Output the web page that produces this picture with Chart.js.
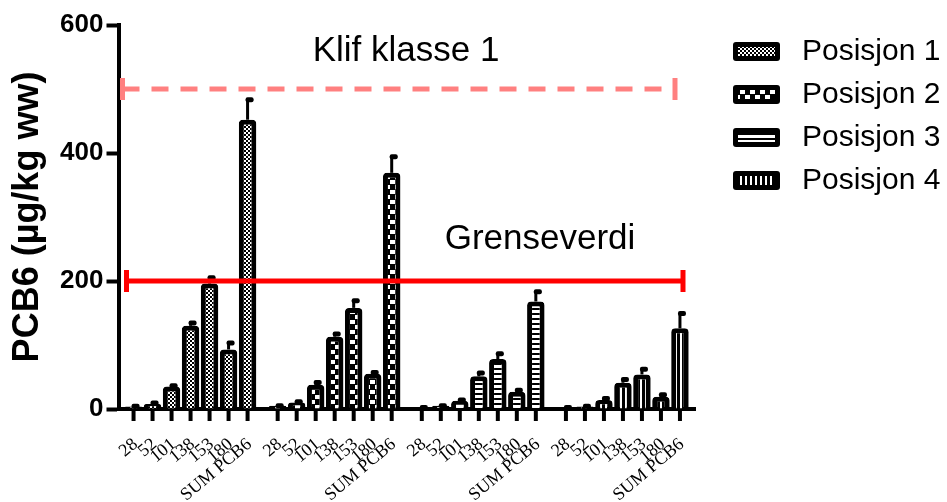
<!DOCTYPE html>
<html>
<head>
<meta charset="utf-8">
<script src="https://cdn.jsdelivr.net/npm/chart.js@4.4.0/dist/chart.umd.min.js"></script>
<style>
  body { margin: 0; background: #fff; }
  #wrap { width: 947px; height: 502px; position: relative; }
</style>
</head>
<body>
<div id="wrap"><canvas id="chart"></canvas></div>
<script>
const positions = ['Posisjon 1', 'Posisjon 2', 'Posisjon 3', 'Posisjon 4'];
const congeners = ['28', '52', '101', '138', '153', '180', 'SUM PCB6'];

// mean and SD per congener, one pair of arrays per position
const pos1Mean = [4, 8, 35, 130, 196, 93, 452];
const pos1Sd = [1, 2, 2, 5, 10, 11, 32];
const pos2Mean = [5, 10, 38, 113, 158, 55, 369];
const pos2Sd = [1, 2, 4, 5, 12, 3, 26];
const pos3Mean = [2, 5, 13, 51, 78, 27, 168];
const pos3Sd = [1, 1, 2, 6, 9, 3, 16];
const pos4Mean = [2, 4, 14, 41, 54, 19, 126];
const pos4Sd = [1, 1, 3, 6, 9, 4, 24];

const yTicks = [0, 200, 400, 600];
const grenseverdi = 200;
const klifKlasse1 = 500;

const means = [pos1Mean, pos2Mean, pos3Mean, pos4Mean];
const sds = [pos1Sd, pos2Sd, pos3Sd, pos4Sd];

const FONT = "'Liberation Sans', Arial, sans-serif";

function makePattern(kind) {
  const c = document.createElement('canvas');
  const g = c.getContext('2d');
  if (kind === 1) {
    c.width = 4; c.height = 4;
    g.fillStyle = '#000'; g.fillRect(0, 0, 4, 4);
    g.fillStyle = '#fff'; g.fillRect(0, 0, 2, 2); g.fillRect(2, 2, 2, 2);
  } else if (kind === 2) {
    c.width = 10; c.height = 10;
    g.fillStyle = '#000'; g.fillRect(0, 0, 10, 10);
    g.fillStyle = '#fff'; g.fillRect(0, 0, 5, 4); g.fillRect(5, 5, 5, 4);
  } else if (kind === 3) {
    c.width = 1; c.height = 5;
    g.fillStyle = '#000'; g.fillRect(0, 0, 1, 5);
    g.fillStyle = '#fff'; g.fillRect(0, 0, 1, 3);
  } else {
    c.width = 5; c.height = 1;
    g.fillStyle = '#000'; g.fillRect(0, 0, 5, 1);
    g.fillStyle = '#fff'; g.fillRect(0, 0, 2, 1);
  }
  return document.getElementById('chart').getContext('2d').createPattern(c, 'repeat');
}

const patterns = [makePattern(1), makePattern(2), makePattern(3), makePattern(4)];

const datasets = congeners.map((name, i) => ({
  label: name,
  data: means.map(m => m[i]),
  backgroundColor: patterns,
  borderColor: '#000',
  borderWidth: 5,
  borderSkipped: 'start',
  borderRadius: { topLeft: 4, topRight: 4, bottomLeft: 0, bottomRight: 0 },
  categoryPercentage: 0.923,
  barPercentage: 0.92
}));

const extras = {
  id: 'extras',
  afterDatasetsDraw(chart) {
    const ctx = chart.ctx;
    const y = chart.scales.y;
    const area = chart.chartArea;
    ctx.save();

    // error bars (upper half)
    ctx.strokeStyle = '#000';
    ctx.lineWidth = 3;
    chart.data.datasets.forEach((ds, i) => {
      chart.getDatasetMeta(i).data.forEach((bar, j) => {
        const top = y.getPixelForValue(means[j][i] + sds[j][i]);
        ctx.beginPath();
        ctx.moveTo(bar.x, bar.y);
        ctx.lineTo(bar.x, top);
        ctx.stroke();
        ctx.fillStyle = '#000';
        ctx.beginPath();
        ctx.roundRect(bar.x - 2, top - 2, 8, 5, 2);
        ctx.fill();
      });
    });

    // x tick marks and rotated labels
    ctx.lineWidth = 4;
    ctx.font = "18px 'Liberation Serif', 'Times New Roman', serif";
    ctx.fillStyle = '#000';
    ctx.textAlign = 'right';
    ctx.textBaseline = 'middle';
    chart.data.datasets.forEach((ds, i) => {
      chart.getDatasetMeta(i).data.forEach(bar => {
        ctx.beginPath();
        ctx.moveTo(bar.x, area.bottom);
        ctx.lineTo(bar.x, area.bottom + 12);
        ctx.stroke();
        ctx.save();
        ctx.translate(bar.x + 2, area.bottom + 33);
        ctx.rotate(-40 * Math.PI / 180);
        ctx.fillText(ds.label, 0, 0);
        ctx.restore();
      });
    });

    // Klif klasse 1 (dashed) line
    const yk = y.getPixelForValue(klifKlasse1);
    ctx.strokeStyle = '#FF8080';
    ctx.lineWidth = 5;
    ctx.setLineDash([17, 12]);
    ctx.beginPath();
    ctx.moveTo(area.left + 4, yk);
    ctx.lineTo(area.right - 20, yk);
    ctx.stroke();
    ctx.setLineDash([]);
    [area.left + 4, area.right - 20].forEach(x => {
      ctx.beginPath();
      ctx.moveTo(x, yk - 11);
      ctx.lineTo(x, yk + 11);
      ctx.stroke();
    });

    // Grenseverdi line
    const yg = y.getPixelForValue(grenseverdi);
    ctx.strokeStyle = '#FF0000';
    ctx.lineWidth = 5;
    ctx.beginPath();
    ctx.moveTo(area.left + 8, yg);
    ctx.lineTo(area.right - 12, yg);
    ctx.stroke();
    [area.left + 8, area.right - 12].forEach(x => {
      ctx.beginPath();
      ctx.moveTo(x, yg - 11);
      ctx.lineTo(x, yg + 11);
      ctx.stroke();
    });

    ctx.fillStyle = '#000';
    ctx.textAlign = 'center';
    ctx.font = '35px ' + FONT;
    ctx.fillText('Klif klasse 1', 406, 51);
    ctx.fillText('Grenseverdi', 540, 239);

    // legend
    ctx.textAlign = 'left';
    ctx.font = '30px ' + FONT;
    positions.forEach((p, k) => {
      const cy = 51 + k * 43;
      ctx.fillStyle = '#000';
      ctx.beginPath();
      ctx.roundRect(733, cy - 9, 47, 19, 3);
      ctx.fill();
      ctx.fillStyle = patterns[k];
      ctx.fillRect(738, cy - 4, 37, 9);
      ctx.fillStyle = '#000';
      ctx.fillText(p, 802, cy + 1);
    });
    ctx.restore();
  }
};

new Chart(document.getElementById('chart'), {
  type: 'bar',
  data: { labels: positions, datasets },
  plugins: [extras],
  options: {
    responsive: true,
    maintainAspectRatio: false,
    animation: false,
    layout: { padding: { top: 25, right: 252, left: 0, bottom: 0 } },
    plugins: { legend: { display: false }, tooltip: { enabled: false } },
    scales: {
      x: {
        ticks: { display: false },
        grid: { display: false },
        border: { display: true, color: '#000', width: 4 },
        afterFit(scale) { scale.height = 93; }
      },
      y: {
        min: 0,
        max: 600,
        afterBuildTicks(scale) { scale.ticks = yTicks.map(v => ({ value: v })); },
        afterFit(scale) { scale.width = 118.5; },
        ticks: {
          color: '#000',
          padding: 3,
          font: { family: FONT, size: 26, weight: 'bold' }
        },
        grid: {
          drawOnChartArea: false,
          tickLength: 12,
          tickWidth: 4,
          tickColor: '#000'
        },
        border: { display: true, color: '#000', width: 4 },
        title: {
          display: true,
          text: 'PCB6 (µg/kg ww)',
          color: '#000',
          padding: { top: 6, bottom: 0 },
          font: { family: FONT, size: 36, weight: 'bold' }
        }
      }
    }
  }
});
</script>
</body>
</html>
